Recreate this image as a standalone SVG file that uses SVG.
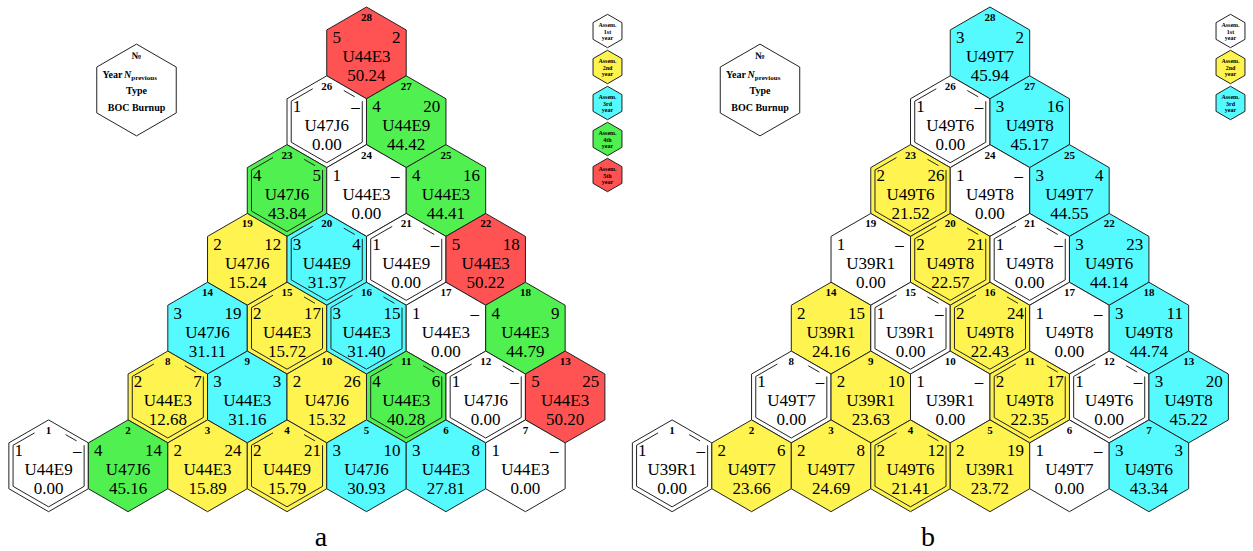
<svg xmlns="http://www.w3.org/2000/svg" width="1253" height="551" viewBox="0 0 1253 551">
<style>
.hx{stroke:#222;stroke-width:1}
.w{fill:#fff}.y{fill:#FFF44F}.c{fill:#55FAFF}.g{fill:#50F050}.r{fill:#FF5252}
.in{fill:none;stroke:#222;stroke-width:1}
.n{font-family:'Liberation Serif',serif;font-weight:bold;font-size:11px;text-anchor:middle}
.t{font-family:'Liberation Serif',serif;font-size:17px}
.m{text-anchor:middle}.e{text-anchor:end}
.lg{font-family:'Liberation Serif',serif;font-weight:bold;font-size:10px;text-anchor:middle}
.ls{font-family:'Liberation Serif',serif;font-weight:bold;font-size:6px;text-anchor:middle}
.cap{font-family:'Liberation Serif',serif;font-size:28px;text-anchor:middle}
</style>
<defs>
<polygon id="hx" points="0,-45.88 39.735,-22.94 39.735,22.94 0,45.88 -39.735,22.94 -39.735,-22.94"/>
<path id="dbl" d="M-14,-32.95 L-35.53,-20.52 L-35.53,20.52 L0,41.03 L35.53,20.52 L35.53,-20.52 M28,-24.87 L17,-31.22"/>
<polygon id="sh" points="0,-16.7 14.46,-8.35 14.46,8.35 0,16.7 -14.46,8.35 -14.46,-8.35"/>
</defs>

<g id="diagram-a">
<g id="a-legend" transform="translate(136.5,90)"><use href="#hx" class="hx w"/>
<text class="lg" y="-31">№</text>
<text class="lg" x="-24" y="-12">Year</text>
<text class="lg" x="4" y="-12" text-anchor="start"><tspan font-style="italic">N</tspan><tspan font-size="7" dy="2">previous</tspan></text>
<text class="lg" y="4">Type</text>
<text class="lg" y="20.5">BOC Burnup</text></g>

<g id="a-key1" transform="translate(607.5,31)"><use href="#sh" class="hx w"/><text class="ls" y="-4">Assem.</text><text class="ls" y="2.5">1st</text><text class="ls" y="9">year</text></g>
<g id="a-key2" transform="translate(607.5,67)"><use href="#sh" class="hx y"/><text class="ls" y="-4">Assem.</text><text class="ls" y="2.5">2nd</text><text class="ls" y="9">year</text></g>
<g id="a-key3" transform="translate(607.5,103)"><use href="#sh" class="hx c"/><text class="ls" y="-4">Assem.</text><text class="ls" y="2.5">3rd</text><text class="ls" y="9">year</text></g>
<g id="a-key4" transform="translate(607.5,139)"><use href="#sh" class="hx g"/><text class="ls" y="-4">Assem.</text><text class="ls" y="2.5">4th</text><text class="ls" y="9">year</text></g>
<g id="a-key5" transform="translate(607.5,175)"><use href="#sh" class="hx r"/><text class="ls" y="-4">Assem.</text><text class="ls" y="2.5">5th</text><text class="ls" y="9">year</text></g>

<g id="a28" transform="translate(366.48,52.88)"><use href="#hx" class="hx r"/><text class="n" y="-32">28</text><text class="t" x="-34" y="-9.6">5</text><text class="t e" x="34" y="-9.6">2</text><text class="t m" y="9.4">U44E3</text><text class="t m" y="28.4">50.24</text></g>
<g id="a26" transform="translate(326.75,121.70)"><use href="#hx" class="hx w"/><use href="#dbl" class="in"/><text class="n" y="-32">26</text><text class="t" x="-34" y="-9.6">1</text><text class="t e" x="33" y="-9.6">–</text><text class="t m" y="9.4">U47J6</text><text class="t m" y="28.4">0.00</text></g>
<g id="a27" transform="translate(406.22,121.70)"><use href="#hx" class="hx g"/><text class="n" y="-32">27</text><text class="t" x="-34" y="-9.6">4</text><text class="t e" x="34" y="-9.6">20</text><text class="t m" y="9.4">U44E9</text><text class="t m" y="28.4">44.42</text></g>
<g id="a23" transform="translate(287.01,190.52)"><use href="#hx" class="hx g"/><use href="#dbl" class="in"/><text class="n" y="-32">23</text><text class="t" x="-34" y="-9.6">4</text><text class="t e" x="34" y="-9.6">5</text><text class="t m" y="9.4">U47J6</text><text class="t m" y="28.4">43.84</text></g>
<g id="a24" transform="translate(366.48,190.52)"><use href="#hx" class="hx w"/><text class="n" y="-32">24</text><text class="t" x="-34" y="-9.6">1</text><text class="t e" x="33" y="-9.6">–</text><text class="t m" y="9.4">U44E3</text><text class="t m" y="28.4">0.00</text></g>
<g id="a25" transform="translate(445.95,190.52)"><use href="#hx" class="hx g"/><text class="n" y="-32">25</text><text class="t" x="-34" y="-9.6">4</text><text class="t e" x="34" y="-9.6">16</text><text class="t m" y="9.4">U44E3</text><text class="t m" y="28.4">44.41</text></g>
<g id="a19" transform="translate(247.28,259.34)"><use href="#hx" class="hx y"/><text class="n" y="-32">19</text><text class="t" x="-34" y="-9.6">2</text><text class="t e" x="34" y="-9.6">12</text><text class="t m" y="9.4">U47J6</text><text class="t m" y="28.4">15.24</text></g>
<g id="a20" transform="translate(326.75,259.34)"><use href="#hx" class="hx c"/><use href="#dbl" class="in"/><text class="n" y="-32">20</text><text class="t" x="-34" y="-9.6">3</text><text class="t e" x="34" y="-9.6">4</text><text class="t m" y="9.4">U44E9</text><text class="t m" y="28.4">31.37</text></g>
<g id="a21" transform="translate(406.22,259.34)"><use href="#hx" class="hx w"/><use href="#dbl" class="in"/><text class="n" y="-32">21</text><text class="t" x="-34" y="-9.6">1</text><text class="t e" x="33" y="-9.6">–</text><text class="t m" y="9.4">U44E9</text><text class="t m" y="28.4">0.00</text></g>
<g id="a22" transform="translate(485.69,259.34)"><use href="#hx" class="hx r"/><text class="n" y="-32">22</text><text class="t" x="-34" y="-9.6">5</text><text class="t e" x="34" y="-9.6">18</text><text class="t m" y="9.4">U44E3</text><text class="t m" y="28.4">50.22</text></g>
<g id="a14" transform="translate(207.54,328.16)"><use href="#hx" class="hx c"/><text class="n" y="-32">14</text><text class="t" x="-34" y="-9.6">3</text><text class="t e" x="34" y="-9.6">19</text><text class="t m" y="9.4">U47J6</text><text class="t m" y="28.4">31.11</text></g>
<g id="a15" transform="translate(287.01,328.16)"><use href="#hx" class="hx y"/><use href="#dbl" class="in"/><text class="n" y="-32">15</text><text class="t" x="-34" y="-9.6">2</text><text class="t e" x="34" y="-9.6">17</text><text class="t m" y="9.4">U44E3</text><text class="t m" y="28.4">15.72</text></g>
<g id="a16" transform="translate(366.48,328.16)"><use href="#hx" class="hx c"/><use href="#dbl" class="in"/><text class="n" y="-32">16</text><text class="t" x="-34" y="-9.6">3</text><text class="t e" x="34" y="-9.6">15</text><text class="t m" y="9.4">U44E3</text><text class="t m" y="28.4">31.40</text></g>
<g id="a17" transform="translate(445.95,328.16)"><use href="#hx" class="hx w"/><text class="n" y="-32">17</text><text class="t" x="-34" y="-9.6">1</text><text class="t e" x="33" y="-9.6">–</text><text class="t m" y="9.4">U44E3</text><text class="t m" y="28.4">0.00</text></g>
<g id="a18" transform="translate(525.42,328.16)"><use href="#hx" class="hx g"/><text class="n" y="-32">18</text><text class="t" x="-34" y="-9.6">4</text><text class="t e" x="34" y="-9.6">9</text><text class="t m" y="9.4">U44E3</text><text class="t m" y="28.4">44.79</text></g>
<g id="a8" transform="translate(167.81,396.98)"><use href="#hx" class="hx y"/><use href="#dbl" class="in"/><text class="n" y="-32">8</text><text class="t" x="-34" y="-9.6">2</text><text class="t e" x="34" y="-9.6">7</text><text class="t m" y="9.4">U44E3</text><text class="t m" y="28.4">12.68</text></g>
<g id="a9" transform="translate(247.28,396.98)"><use href="#hx" class="hx c"/><text class="n" y="-32">9</text><text class="t" x="-34" y="-9.6">3</text><text class="t e" x="34" y="-9.6">3</text><text class="t m" y="9.4">U44E3</text><text class="t m" y="28.4">31.16</text></g>
<g id="a10" transform="translate(326.75,396.98)"><use href="#hx" class="hx y"/><text class="n" y="-32">10</text><text class="t" x="-34" y="-9.6">2</text><text class="t e" x="34" y="-9.6">26</text><text class="t m" y="9.4">U47J6</text><text class="t m" y="28.4">15.32</text></g>
<g id="a11" transform="translate(406.22,396.98)"><use href="#hx" class="hx g"/><use href="#dbl" class="in"/><text class="n" y="-32">11</text><text class="t" x="-34" y="-9.6">4</text><text class="t e" x="34" y="-9.6">6</text><text class="t m" y="9.4">U44E3</text><text class="t m" y="28.4">40.28</text></g>
<g id="a12" transform="translate(485.69,396.98)"><use href="#hx" class="hx w"/><use href="#dbl" class="in"/><text class="n" y="-32">12</text><text class="t" x="-34" y="-9.6">1</text><text class="t e" x="33" y="-9.6">–</text><text class="t m" y="9.4">U47J6</text><text class="t m" y="28.4">0.00</text></g>
<g id="a13" transform="translate(565.16,396.98)"><use href="#hx" class="hx r"/><text class="n" y="-32">13</text><text class="t" x="-34" y="-9.6">5</text><text class="t e" x="34" y="-9.6">25</text><text class="t m" y="9.4">U44E3</text><text class="t m" y="28.4">50.20</text></g>
<g id="a1" transform="translate(48.6,465.80)"><use href="#hx" class="hx w"/><use href="#dbl" class="in"/><text class="n" y="-32">1</text><text class="t" x="-34" y="-9.6">1</text><text class="t e" x="33" y="-9.6">–</text><text class="t m" y="9.4">U44E9</text><text class="t m" y="28.4">0.00</text></g>
<g id="a2" transform="translate(128.07,465.80)"><use href="#hx" class="hx g"/><text class="n" y="-32">2</text><text class="t" x="-34" y="-9.6">4</text><text class="t e" x="34" y="-9.6">14</text><text class="t m" y="9.4">U47J6</text><text class="t m" y="28.4">45.16</text></g>
<g id="a3" transform="translate(207.54,465.80)"><use href="#hx" class="hx y"/><text class="n" y="-32">3</text><text class="t" x="-34" y="-9.6">2</text><text class="t e" x="34" y="-9.6">24</text><text class="t m" y="9.4">U44E3</text><text class="t m" y="28.4">15.89</text></g>
<g id="a4" transform="translate(287.01,465.80)"><use href="#hx" class="hx y"/><use href="#dbl" class="in"/><text class="n" y="-32">4</text><text class="t" x="-34" y="-9.6">2</text><text class="t e" x="34" y="-9.6">21</text><text class="t m" y="9.4">U44E9</text><text class="t m" y="28.4">15.79</text></g>
<g id="a5" transform="translate(366.48,465.80)"><use href="#hx" class="hx c"/><text class="n" y="-32">5</text><text class="t" x="-34" y="-9.6">3</text><text class="t e" x="34" y="-9.6">10</text><text class="t m" y="9.4">U47J6</text><text class="t m" y="28.4">30.93</text></g>
<g id="a6" transform="translate(445.95,465.80)"><use href="#hx" class="hx c"/><text class="n" y="-32">6</text><text class="t" x="-34" y="-9.6">3</text><text class="t e" x="34" y="-9.6">8</text><text class="t m" y="9.4">U44E3</text><text class="t m" y="28.4">27.81</text></g>
<g id="a7" transform="translate(525.42,465.80)"><use href="#hx" class="hx w"/><text class="n" y="-32">7</text><text class="t" x="-34" y="-9.6">1</text><text class="t e" x="33" y="-9.6">–</text><text class="t m" y="9.4">U44E3</text><text class="t m" y="28.4">0.00</text></g>
<text class="cap" x="321" y="546">a</text>
</g>

<g id="diagram-b">
<g id="b-legend" transform="translate(760,90)"><use href="#hx" class="hx w"/>
<text class="lg" y="-31">№</text>
<text class="lg" x="-24" y="-12">Year</text>
<text class="lg" x="4" y="-12" text-anchor="start"><tspan font-style="italic">N</tspan><tspan font-size="7" dy="2">previous</tspan></text>
<text class="lg" y="4">Type</text>
<text class="lg" y="20.5">BOC Burnup</text></g>

<g id="b-key1" transform="translate(1230.5,31)"><use href="#sh" class="hx w"/><text class="ls" y="-4">Assem.</text><text class="ls" y="2.5">1st</text><text class="ls" y="9">year</text></g>
<g id="b-key2" transform="translate(1230.5,67)"><use href="#sh" class="hx y"/><text class="ls" y="-4">Assem.</text><text class="ls" y="2.5">2nd</text><text class="ls" y="9">year</text></g>
<g id="b-key3" transform="translate(1230.5,103)"><use href="#sh" class="hx c"/><text class="ls" y="-4">Assem.</text><text class="ls" y="2.5">3rd</text><text class="ls" y="9">year</text></g>

<g id="b28" transform="translate(989.98,52.88)"><use href="#hx" class="hx c"/><text class="n" y="-32">28</text><text class="t" x="-34" y="-9.6">3</text><text class="t e" x="34" y="-9.6">2</text><text class="t m" y="9.4">U49T7</text><text class="t m" y="28.4">45.94</text></g>
<g id="b26" transform="translate(950.25,121.70)"><use href="#hx" class="hx w"/><use href="#dbl" class="in"/><text class="n" y="-32">26</text><text class="t" x="-34" y="-9.6">1</text><text class="t e" x="33" y="-9.6">–</text><text class="t m" y="9.4">U49T6</text><text class="t m" y="28.4">0.00</text></g>
<g id="b27" transform="translate(1029.72,121.70)"><use href="#hx" class="hx c"/><text class="n" y="-32">27</text><text class="t" x="-34" y="-9.6">3</text><text class="t e" x="34" y="-9.6">16</text><text class="t m" y="9.4">U49T8</text><text class="t m" y="28.4">45.17</text></g>
<g id="b23" transform="translate(910.51,190.52)"><use href="#hx" class="hx y"/><use href="#dbl" class="in"/><text class="n" y="-32">23</text><text class="t" x="-34" y="-9.6">2</text><text class="t e" x="34" y="-9.6">26</text><text class="t m" y="9.4">U49T6</text><text class="t m" y="28.4">21.52</text></g>
<g id="b24" transform="translate(989.98,190.52)"><use href="#hx" class="hx w"/><text class="n" y="-32">24</text><text class="t" x="-34" y="-9.6">1</text><text class="t e" x="33" y="-9.6">–</text><text class="t m" y="9.4">U49T8</text><text class="t m" y="28.4">0.00</text></g>
<g id="b25" transform="translate(1069.45,190.52)"><use href="#hx" class="hx c"/><text class="n" y="-32">25</text><text class="t" x="-34" y="-9.6">3</text><text class="t e" x="34" y="-9.6">4</text><text class="t m" y="9.4">U49T7</text><text class="t m" y="28.4">44.55</text></g>
<g id="b19" transform="translate(870.78,259.34)"><use href="#hx" class="hx w"/><text class="n" y="-32">19</text><text class="t" x="-34" y="-9.6">1</text><text class="t e" x="33" y="-9.6">–</text><text class="t m" y="9.4">U39R1</text><text class="t m" y="28.4">0.00</text></g>
<g id="b20" transform="translate(950.25,259.34)"><use href="#hx" class="hx y"/><use href="#dbl" class="in"/><text class="n" y="-32">20</text><text class="t" x="-34" y="-9.6">2</text><text class="t e" x="34" y="-9.6">21</text><text class="t m" y="9.4">U49T8</text><text class="t m" y="28.4">22.57</text></g>
<g id="b21" transform="translate(1029.72,259.34)"><use href="#hx" class="hx w"/><use href="#dbl" class="in"/><text class="n" y="-32">21</text><text class="t" x="-34" y="-9.6">1</text><text class="t e" x="33" y="-9.6">–</text><text class="t m" y="9.4">U49T8</text><text class="t m" y="28.4">0.00</text></g>
<g id="b22" transform="translate(1109.19,259.34)"><use href="#hx" class="hx c"/><text class="n" y="-32">22</text><text class="t" x="-34" y="-9.6">3</text><text class="t e" x="34" y="-9.6">23</text><text class="t m" y="9.4">U49T6</text><text class="t m" y="28.4">44.14</text></g>
<g id="b14" transform="translate(831.04,328.16)"><use href="#hx" class="hx y"/><text class="n" y="-32">14</text><text class="t" x="-34" y="-9.6">2</text><text class="t e" x="34" y="-9.6">15</text><text class="t m" y="9.4">U39R1</text><text class="t m" y="28.4">24.16</text></g>
<g id="b15" transform="translate(910.51,328.16)"><use href="#hx" class="hx w"/><use href="#dbl" class="in"/><text class="n" y="-32">15</text><text class="t" x="-34" y="-9.6">1</text><text class="t e" x="33" y="-9.6">–</text><text class="t m" y="9.4">U39R1</text><text class="t m" y="28.4">0.00</text></g>
<g id="b16" transform="translate(989.98,328.16)"><use href="#hx" class="hx y"/><use href="#dbl" class="in"/><text class="n" y="-32">16</text><text class="t" x="-34" y="-9.6">2</text><text class="t e" x="34" y="-9.6">24</text><text class="t m" y="9.4">U49T8</text><text class="t m" y="28.4">22.43</text></g>
<g id="b17" transform="translate(1069.45,328.16)"><use href="#hx" class="hx w"/><text class="n" y="-32">17</text><text class="t" x="-34" y="-9.6">1</text><text class="t e" x="33" y="-9.6">–</text><text class="t m" y="9.4">U49T8</text><text class="t m" y="28.4">0.00</text></g>
<g id="b18" transform="translate(1148.92,328.16)"><use href="#hx" class="hx c"/><text class="n" y="-32">18</text><text class="t" x="-34" y="-9.6">3</text><text class="t e" x="34" y="-9.6">11</text><text class="t m" y="9.4">U49T8</text><text class="t m" y="28.4">44.74</text></g>
<g id="b8" transform="translate(791.31,396.98)"><use href="#hx" class="hx w"/><use href="#dbl" class="in"/><text class="n" y="-32">8</text><text class="t" x="-34" y="-9.6">1</text><text class="t e" x="33" y="-9.6">–</text><text class="t m" y="9.4">U49T7</text><text class="t m" y="28.4">0.00</text></g>
<g id="b9" transform="translate(870.78,396.98)"><use href="#hx" class="hx y"/><text class="n" y="-32">9</text><text class="t" x="-34" y="-9.6">2</text><text class="t e" x="34" y="-9.6">10</text><text class="t m" y="9.4">U39R1</text><text class="t m" y="28.4">23.63</text></g>
<g id="b10" transform="translate(950.25,396.98)"><use href="#hx" class="hx w"/><text class="n" y="-32">10</text><text class="t" x="-34" y="-9.6">1</text><text class="t e" x="33" y="-9.6">–</text><text class="t m" y="9.4">U39R1</text><text class="t m" y="28.4">0.00</text></g>
<g id="b11" transform="translate(1029.72,396.98)"><use href="#hx" class="hx y"/><use href="#dbl" class="in"/><text class="n" y="-32">11</text><text class="t" x="-34" y="-9.6">2</text><text class="t e" x="34" y="-9.6">17</text><text class="t m" y="9.4">U49T8</text><text class="t m" y="28.4">22.35</text></g>
<g id="b12" transform="translate(1109.19,396.98)"><use href="#hx" class="hx w"/><use href="#dbl" class="in"/><text class="n" y="-32">12</text><text class="t" x="-34" y="-9.6">1</text><text class="t e" x="33" y="-9.6">–</text><text class="t m" y="9.4">U49T6</text><text class="t m" y="28.4">0.00</text></g>
<g id="b13" transform="translate(1188.66,396.98)"><use href="#hx" class="hx c"/><text class="n" y="-32">13</text><text class="t" x="-34" y="-9.6">3</text><text class="t e" x="34" y="-9.6">20</text><text class="t m" y="9.4">U49T8</text><text class="t m" y="28.4">45.22</text></g>
<g id="b1" transform="translate(672.1,465.80)"><use href="#hx" class="hx w"/><use href="#dbl" class="in"/><text class="n" y="-32">1</text><text class="t" x="-34" y="-9.6">1</text><text class="t e" x="33" y="-9.6">–</text><text class="t m" y="9.4">U39R1</text><text class="t m" y="28.4">0.00</text></g>
<g id="b2" transform="translate(751.57,465.80)"><use href="#hx" class="hx y"/><text class="n" y="-32">2</text><text class="t" x="-34" y="-9.6">2</text><text class="t e" x="34" y="-9.6">6</text><text class="t m" y="9.4">U49T7</text><text class="t m" y="28.4">23.66</text></g>
<g id="b3" transform="translate(831.04,465.80)"><use href="#hx" class="hx y"/><text class="n" y="-32">3</text><text class="t" x="-34" y="-9.6">2</text><text class="t e" x="34" y="-9.6">8</text><text class="t m" y="9.4">U49T7</text><text class="t m" y="28.4">24.69</text></g>
<g id="b4" transform="translate(910.51,465.80)"><use href="#hx" class="hx y"/><use href="#dbl" class="in"/><text class="n" y="-32">4</text><text class="t" x="-34" y="-9.6">2</text><text class="t e" x="34" y="-9.6">12</text><text class="t m" y="9.4">U49T6</text><text class="t m" y="28.4">21.41</text></g>
<g id="b5" transform="translate(989.98,465.80)"><use href="#hx" class="hx y"/><text class="n" y="-32">5</text><text class="t" x="-34" y="-9.6">2</text><text class="t e" x="34" y="-9.6">19</text><text class="t m" y="9.4">U39R1</text><text class="t m" y="28.4">23.72</text></g>
<g id="b6" transform="translate(1069.45,465.80)"><use href="#hx" class="hx w"/><text class="n" y="-32">6</text><text class="t" x="-34" y="-9.6">1</text><text class="t e" x="33" y="-9.6">–</text><text class="t m" y="9.4">U49T7</text><text class="t m" y="28.4">0.00</text></g>
<g id="b7" transform="translate(1148.92,465.80)"><use href="#hx" class="hx c"/><text class="n" y="-32">7</text><text class="t" x="-34" y="-9.6">3</text><text class="t e" x="34" y="-9.6">3</text><text class="t m" y="9.4">U49T6</text><text class="t m" y="28.4">43.34</text></g>
<text class="cap" x="928" y="546">b</text>
</g>
</svg>
